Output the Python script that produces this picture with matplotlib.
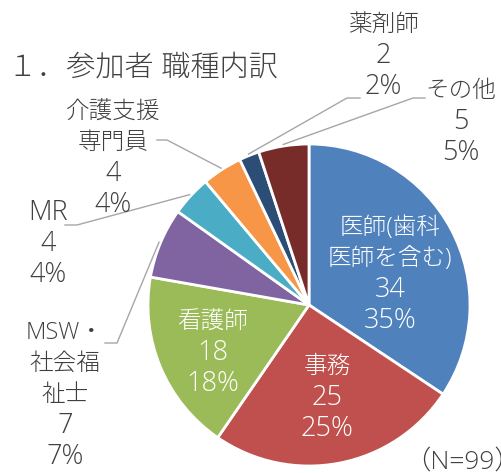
import numpy as np
import matplotlib
matplotlib.use('Agg')
import matplotlib.pyplot as plt

plt.rcParams['font.family'] = ['Open Sans', 'Noto Sans CJK JP', 'DejaVu Sans']
plt.rcParams['font.weight'] = 'light'

TEXT_COLOR = '#404040'
LINE_COLOR = '#A6A6A6'

names = ['医師(歯科\n医師を含む)', '事務', '看護師', 'MSW・\n社会福\n祉士', 'MR',
         '介護支援\n専門員', '薬剤師', 'その他']
counts = [34, 25, 18, 7, 4, 4, 2, 5]
pcts = [35, 25, 18, 7, 4, 4, 2, 5]
colors = ['#4F81BD', '#C0504D', '#9BBB59', '#8064A2', '#4BACC6',
          '#F79646', '#2C4D75', '#772C2A']

W, H = 501, 473
fig = plt.figure(figsize=(W / 100, H / 100), dpi=100)
ax = fig.add_axes([0, 0, 1, 1])

# pixel layout (y measured from top of image)
cx, cy, R = 309, 305, 161


def py(y):
    return H - y


wedges, _ = ax.pie(counts, colors=colors, startangle=90, counterclock=False,
                   center=(cx, py(cy)), radius=R,
                   wedgeprops=dict(edgecolor='white', linewidth=2))
ax.set_xlim(0, W)
ax.set_ylim(0, H)
ax.set_aspect('auto')
ax.axis('off')

# label blocks: (x, y of first line from top, inside?)
label_pos = [(390, 228, True), (327, 367, True), (213, 322, True),
             (65, 333, False), (48, 213, False), (113, 112, False),
             (383, 25, False), (461, 91, False)]
STEP = 31

for name, c, p, (x, y, inside) in zip(names, counts, pcts, label_pos):
    lines = name.split('\n') + [str(c), f'{p}%']
    for k, line in enumerate(lines):
        latin = all(ord(ch) < 128 for ch in line)
        ax.text(x, py(y + k * STEP), line, ha='center', va='center',
                fontsize=19.5 if latin else 17,
                color='white' if inside else TEXT_COLOR)

# leader lines: (outer x, inner x, y from top) for outside labels
leaders = {3: (105, 117, 343), 4: (65, 77, 225), 5: (157, 167, 140),
           6: (360, 347, 98), 7: (425, 413, 98)}
for i, (x0, x1, y) in leaders.items():
    w = wedges[i]
    ang = np.deg2rad((w.theta1 + w.theta2) / 2)
    ex = cx + R * 1.01 * np.cos(ang)
    ey = py(cy) + R * 1.01 * np.sin(ang)
    ax.plot([x0, x1, ex], [py(y), py(y), ey], color=LINE_COLOR, lw=1.0)

fig.text(8 / W, 1 - 68 / H, '１．参加者 職種内訳', ha='left', va='center',
         fontsize=21, color=TEXT_COLOR)
fig.text(404 / W, 1 - 462 / H, '（N=99）', ha='left', va='center',
         fontsize=19, color=TEXT_COLOR)

fig.savefig('out.png', dpi=100, facecolor='white')
